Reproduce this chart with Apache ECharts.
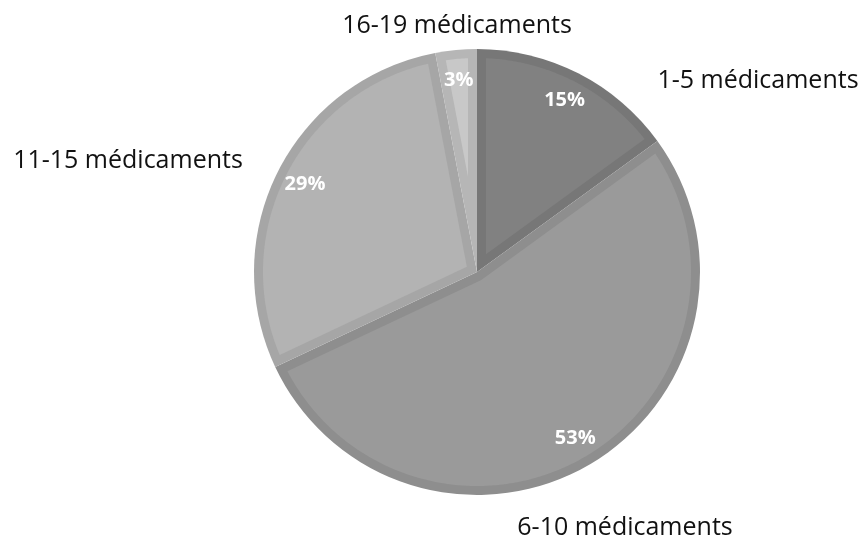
<!DOCTYPE html>
<html>
<head>
<meta charset="utf-8">
<script src="https://cdn.jsdelivr.net/npm/echarts@6/dist/echarts.min.js"></script>
<style>
  html, body { margin: 0; padding: 0; background: #ffffff; }
  #chart { width: 864px; height: 541px; }
</style>
</head>
<body>
<div id="chart"></div>
<script>
// Nombre de médicaments par patient (répartition en %)
const categories = ['1-5 médicaments', '6-10 médicaments', '11-15 médicaments', '16-19 médicaments'];
const shares = [15, 53, 29, 3];

// Slice colours: darker rim and lighter body for each group
const rimColors  = ['#777777', '#8e8e8e', '#a6a6a6', '#b6b6b6'];
const bodyColors = ['#818181', '#9a9a9a', '#b3b3b3', '#c8c8c8'];

// Pie geometry (pixels)
const CX = 477, CY = 272, R = 223, RIM = 9;

// Category label anchors around the pie
const nameAnchors = [[758, 81], [625, 528], [128, 161], [457, 26]];

const total = shares.reduce((a, b) => a + b, 0);

// Inner body of a slice: the sector shrunk by RIM on every side
function insetSlice(params, api) {
  const i = params.dataIndex;
  const before = shares.slice(0, i).reduce((a, b) => a + b, 0);
  const t0 = before / total * Math.PI * 2;
  const t1 = (before + shares[i]) / total * Math.PI * 2;
  const span = t1 - t0;
  const Ri = R - RIM;
  const pt = (rho, th) => [CX + rho * Math.sin(th), CY - rho * Math.cos(th)];
  const a0 = t0 + Math.asin(RIM / Ri);
  const a1 = t1 - Math.asin(RIM / Ri);
  const pts = [];
  if (span < Math.PI) {
    pts.push(pt(RIM / Math.sin(span / 2), (t0 + t1) / 2));
  } else {
    pts.push(pt(RIM, t0 + Math.PI / 2));
  }
  const steps = Math.max(8, Math.ceil((a1 - a0) / 0.01));
  for (let k = 0; k <= steps; k++) {
    pts.push(pt(Ri, a0 + (a1 - a0) * k / steps));
  }
  if (span >= Math.PI) {
    const b0 = t1 - Math.PI / 2, b1 = t0 + Math.PI / 2;
    for (let k = 0; k <= 12; k++) {
      pts.push(pt(RIM, b0 + (b1 - b0) * k / 12));
    }
  }
  return {
    type: 'polygon',
    shape: { points: pts },
    style: { fill: bodyColors[i] }
  };
}

const pieData = categories.map((name, i) => ({ name: name, value: shares[i] }));

const chart = echarts.init(document.getElementById('chart'), null, { renderer: 'canvas' });
chart.setOption({
  animation: false,
  backgroundColor: '#ffffff',
  series: [
    {
      // full slices in rim colour, with category names
      type: 'pie',
      center: [CX, CY],
      radius: [0, R],
      startAngle: 90,
      clockwise: true,
      silent: true,
      z: 1,
      data: pieData,
      itemStyle: {
        color: (p) => rimColors[p.dataIndex],
        borderWidth: 0
      },
      label: {
        show: true,
        position: 'outside',
        formatter: '{b}',
        overflow: 'none',
        fontFamily: 'Open Sans',
        fontSize: 25,
        color: '#111111'
      },
      labelLine: { show: false },
      labelLayout: (p) => ({
        x: nameAnchors[p.dataIndex][0],
        y: nameAnchors[p.dataIndex][1],
        align: 'center',
        verticalAlign: 'middle'
      })
    },
    {
      // lighter slice bodies
      type: 'custom',
      coordinateSystem: 'none',
      silent: true,
      z: 2,
      data: shares,
      renderItem: insetSlice
    },
    {
      // ring carrying the percentage labels
      type: 'pie',
      center: [CX, CY],
      radius: [158, 222],
      startAngle: 90,
      clockwise: true,
      silent: true,
      z: 3,
      data: pieData,
      itemStyle: { color: 'rgba(0,0,0,0)' },
      label: {
        show: true,
        position: 'inside',
        formatter: (p) => p.value + '%',
        fontFamily: 'Open Sans',
        fontWeight: 'bold',
        fontSize: 20,
        color: '#ffffff'
      },
      labelLine: { show: false }
    }
  ]
});
</script>
</body>
</html>
